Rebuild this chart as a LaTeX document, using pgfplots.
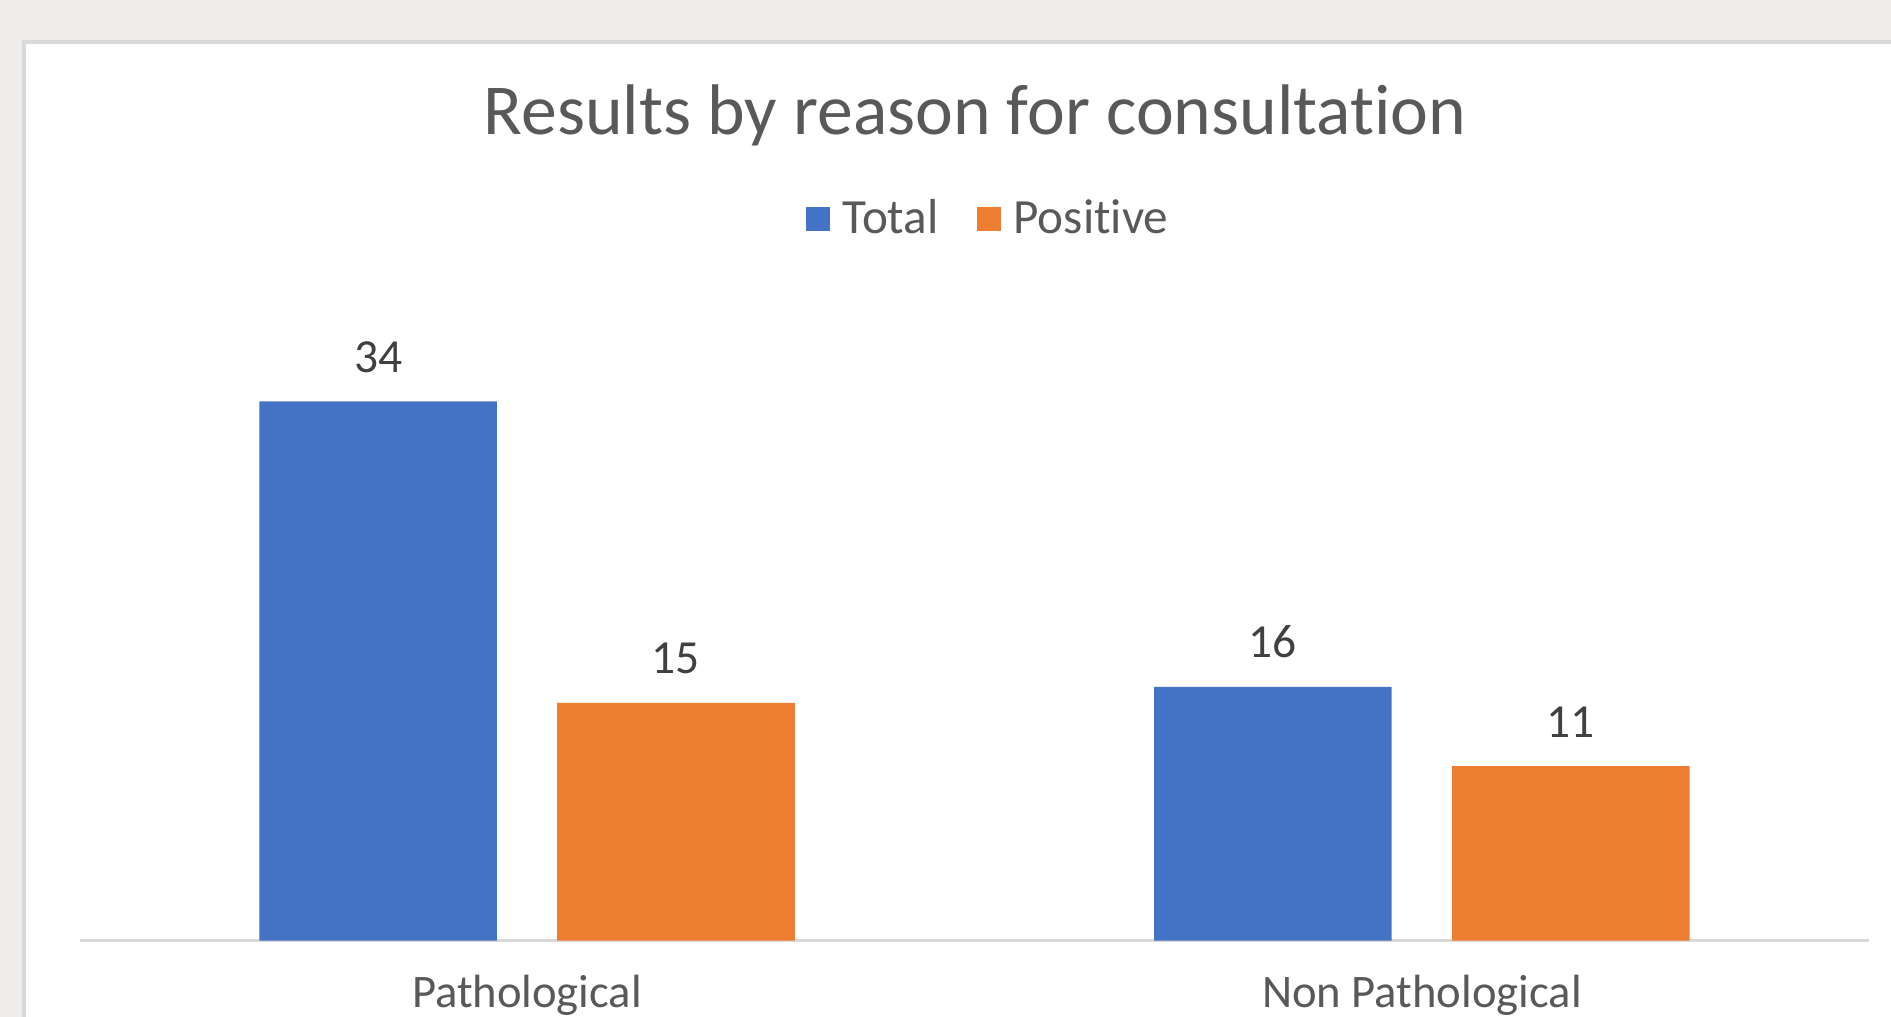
\documentclass[border=0pt]{standalone}
\usepackage{fontspec}
\setmainfont{Carlito}[Ligatures={NoCommon}]
\usepackage{pgfplots}
\pgfplotsset{compat=1.18}
\definecolor{bgout}{HTML}{EFEDE9}
\definecolor{bord}{HTML}{D9D9D9}
\definecolor{cblue}{HTML}{4472C4}
\definecolor{corange}{HTML}{ED7D31}
\definecolor{txt}{HTML}{595959}
\definecolor{lbl}{HTML}{404040}
\begin{document}
\begin{tikzpicture}
\useasboundingbox (0,0) rectangle (156.8mm,84.3mm);
\fill[bgout] (0,0) rectangle (156.8mm,84.3mm);
\fill[white] (2mm,0) rectangle (156.8mm,80.8mm);
\draw[bord, line width=0.3mm] (2mm,0) -- (2mm,80.8mm) -- (156.8mm,80.8mm);
\node[txt, font=\fontsize{16.9}{20}\selectfont] at (80.85mm,74.7mm) {Results by reason for consultation};
\begin{axis}[
  at={(6.6mm,6.3mm)}, anchor=south west,
  scale only axis, width=148.4mm, height=52.6mm,
  ymin=0, ymax=40, xmin=-0.5, xmax=1.5,
  axis x line*=bottom, axis y line=none,
  x axis line style={bord, line width=0.3mm, -},
  xtick={0,1}, xticklabels={Pathological, Non Pathological},
  major tick length=0pt,
  xticklabel style={anchor=base, yshift=-5.5mm, font=\fontsize{11}{13}\selectfont, text=txt},
  ybar=5mm, bar width=19.7mm,
  /pgf/number format/assume math mode=true,
  nodes near coords,
  every node near coord/.append style={anchor=base, yshift=2.4mm, font=\fontsize{11.2}{13}\selectfont, text=lbl},
  legend style={at={(0.5095,1.137)}, anchor=center, draw=none, fill=none,
    legend columns=2, font=\fontsize{11.6}{13}\selectfont, text=txt,
    /tikz/every even column/.append style={column sep=2.5mm},
    /tikz/every odd column/.append style={column sep=0.3mm},
    inner sep=0pt},
  legend image code/.code={\fill[#1] (0mm,-1mm) rectangle (2mm,1mm);},
]
\addplot[fill=cblue, draw=none] coordinates {(0,34) (1,16)};
\addplot[fill=corange, draw=none] coordinates {(0,15) (1,11)};
\legend{Total, Positive}
\end{axis}
\end{tikzpicture}
\end{document}
